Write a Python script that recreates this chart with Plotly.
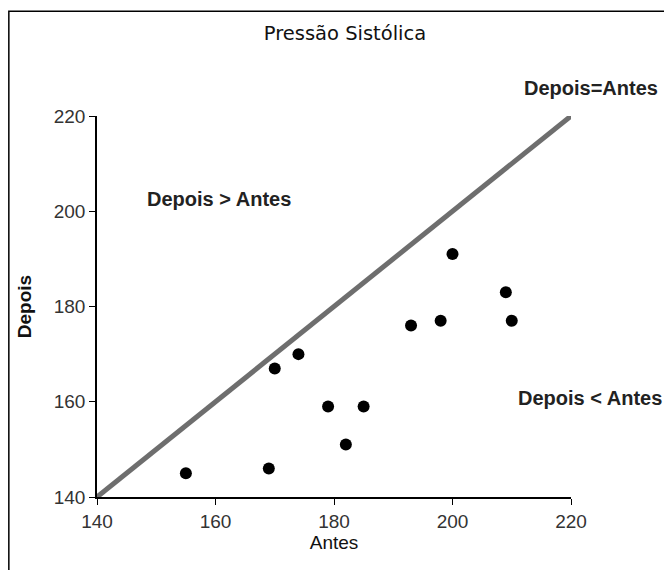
import plotly.graph_objects as go

antes = [155, 169, 170, 174, 179, 182, 185, 193, 198, 200, 209, 210]
depois = [145, 146, 167, 170, 159, 151, 159, 176, 177, 191, 183, 177]
ref_line = [140, 220]
x_ticks = [140, 160, 180, 200, 220]
y_ticks = [140, 160, 180, 200, 220]

fig = go.Figure()
fig.add_trace(go.Scatter(x=ref_line, y=ref_line, mode="lines",
                         line=dict(color="#6e6e6e", width=5), hoverinfo="skip",
                         showlegend=False, cliponaxis=False))
fig.add_trace(go.Scatter(x=antes, y=depois, mode="markers",
                         marker=dict(color="black", size=12), showlegend=False,
                         cliponaxis=False))

axis_font = dict(family="Arial, Liberation Sans", size=19, color="#333333")
fig.update_xaxes(range=[140, 220], tickvals=x_ticks, ticks="outside", ticklen=6,
                 tickcolor="black", showline=True, linecolor="black", linewidth=1.5,
                 showgrid=False, zeroline=False, tickfont=axis_font,
                 title=dict(text="Antes", font=dict(family="Arial, Liberation Sans", size=19, color="#111"),
                            standoff=4))
fig.update_yaxes(range=[140, 220], tickvals=y_ticks, ticks="outside", ticklen=6,
                 tickcolor="black", showline=True, linecolor="black", linewidth=1.5,
                 showgrid=False, zeroline=False, tickfont=axis_font,
                 title=dict(text="<b>Depois</b>", font=dict(family="Arial, Liberation Sans", size=19, color="#111"),
                            standoff=17))

ann_font = dict(family="Arial, Liberation Sans", size=20, color="#222222")
fig.add_annotation(x=1.042, y=1.0735, xref="paper", yref="paper", text="<b>Depois=Antes</b>",
                   showarrow=False, font=ann_font, xanchor="center", yanchor="middle")
fig.add_annotation(x=0.258, y=0.782, xref="paper", yref="paper", text="<b>Depois > Antes</b>",
                   showarrow=False, font=ann_font, xanchor="center", yanchor="middle")
fig.add_annotation(x=1.040, y=0.26, xref="paper", yref="paper", text="<b>Depois < Antes</b>",
                   showarrow=False, font=ann_font, xanchor="center", yanchor="middle")

fig.add_shape(type="rect", xref="paper", yref="paper", x0=-0.186, y0=-0.3, x1=1.3, y1=1.275,
              line=dict(color="black", width=1.5), fillcolor="rgba(0,0,0,0)", layer="above")

fig.update_layout(
    width=664, height=562,
    margin=dict(l=89, r=101, t=108, b=73),
    paper_bgcolor="white", plot_bgcolor="white",
    title=dict(text="Pressão Sistólica", x=0.5075, xanchor="center", y=0.955, yanchor="middle",
               font=dict(family="DejaVu Sans, Verdana", size=19.5, color="#111")),
)

fig.write_html("out.html")
